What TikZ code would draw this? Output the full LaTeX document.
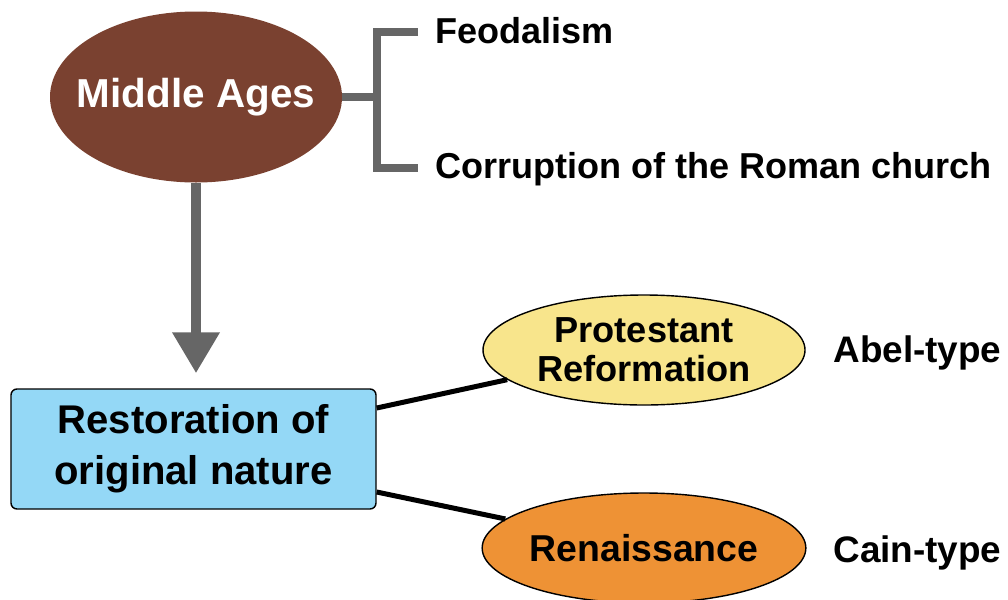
\documentclass[tikz,border=0pt]{standalone}
\usepackage{fontspec}
\setmainfont{Liberation Sans}
\usepackage{tikz}
\usetikzlibrary{arrows.meta,positioning,shapes.geometric}
\usepackage{xcolor}
\definecolor{EraBrown}{HTML}{7A4130}
\definecolor{RestoreBlue}{HTML}{94D8F6}
\definecolor{AbelYellow}{HTML}{F8E58C}
\definecolor{CainOrange}{HTML}{EE9235}
\definecolor{LineGray}{HTML}{666666}
\tikzset{
  eranode/.style={ellipse,fill=EraBrown,minimum width=5.84cm,minimum height=3.42cm,inner sep=0pt},
  eratext/.style={text=white,inner sep=0pt,font=\bfseries\fontsize{23}{28}\selectfont},
  restorenode/.style={draw=black,line width=0.8pt,fill=RestoreBlue,rounded corners=1.2mm,minimum width=7.3cm,minimum height=2.4cm,align=center,font=\bfseries\fontsize{22.8}{29}\selectfont},
  movementnode/.style={ellipse,draw=black,line width=0.8pt,minimum width=6.44cm,minimum height=2.2cm,inner sep=0pt,align=center,font=\bfseries\fontsize{20.6}{22}\selectfont},
  itemtext/.style={anchor=base west,inner sep=0pt,font=\bfseries\fontsize{20.5}{24}\selectfont},
  typetext/.style={anchor=base west,inner sep=0pt,font=\bfseries\fontsize{21}{24}\selectfont},
  bracketline/.style={draw=LineGray,line width=0.15cm},
  flowarrow/.style={-{Triangle[width=0.9cm,length=0.82cm]},draw=LineGray,fill=LineGray,line width=0.2cm},
  linkline/.style={draw=black,line width=0.1cm}
}
\begin{document}
\begin{tikzpicture}
\useasboundingbox (0,0) rectangle (20.16,-11.98);
% middle ages and its two marks
\node[eranode,label={[eratext]center:Middle Ages}] (mid) at (3.92,-1.94) {};
\coordinate (brk) at (7.54,-1.94);
\coordinate (feotip) at (8.36,-0.64);
\coordinate (cortip) at (8.36,-3.36);
\node[itemtext] (feo) at (8.70,-0.86) {Feodalism};
\node[itemtext] (cor) at (8.70,-3.56) {Corruption of the Roman church};
\draw[bracketline] (mid.east) -- (brk);
\draw[bracketline] (feotip) -| (brk) |- (cortip);
% restoration and the two movements
\node[restorenode] (rest) at (3.87,-8.98) {Restoration of\\original nature};
\draw[flowarrow,shorten >=0.3cm] (mid.south) -- (mid.south |- rest.north);
\node[movementnode,fill=AbelYellow] (prot) at (12.88,-7.0) {Protestant\\Reformation};
\node[movementnode,fill=CainOrange,font=\bfseries\fontsize{21.3}{24}\selectfont] (ren) at (12.88,-10.96) {Renaissance};
\draw[linkline] ([yshift=0.82cm]rest.east) -- (prot);
\draw[linkline] ([yshift=-0.86cm]rest.east) -- (ren);
\node[typetext] (abel) at (16.66,-7.24) {Abel-type};
\node[typetext] (cain) at (16.66,-11.24) {Cain-type};
\end{tikzpicture}
\end{document}
